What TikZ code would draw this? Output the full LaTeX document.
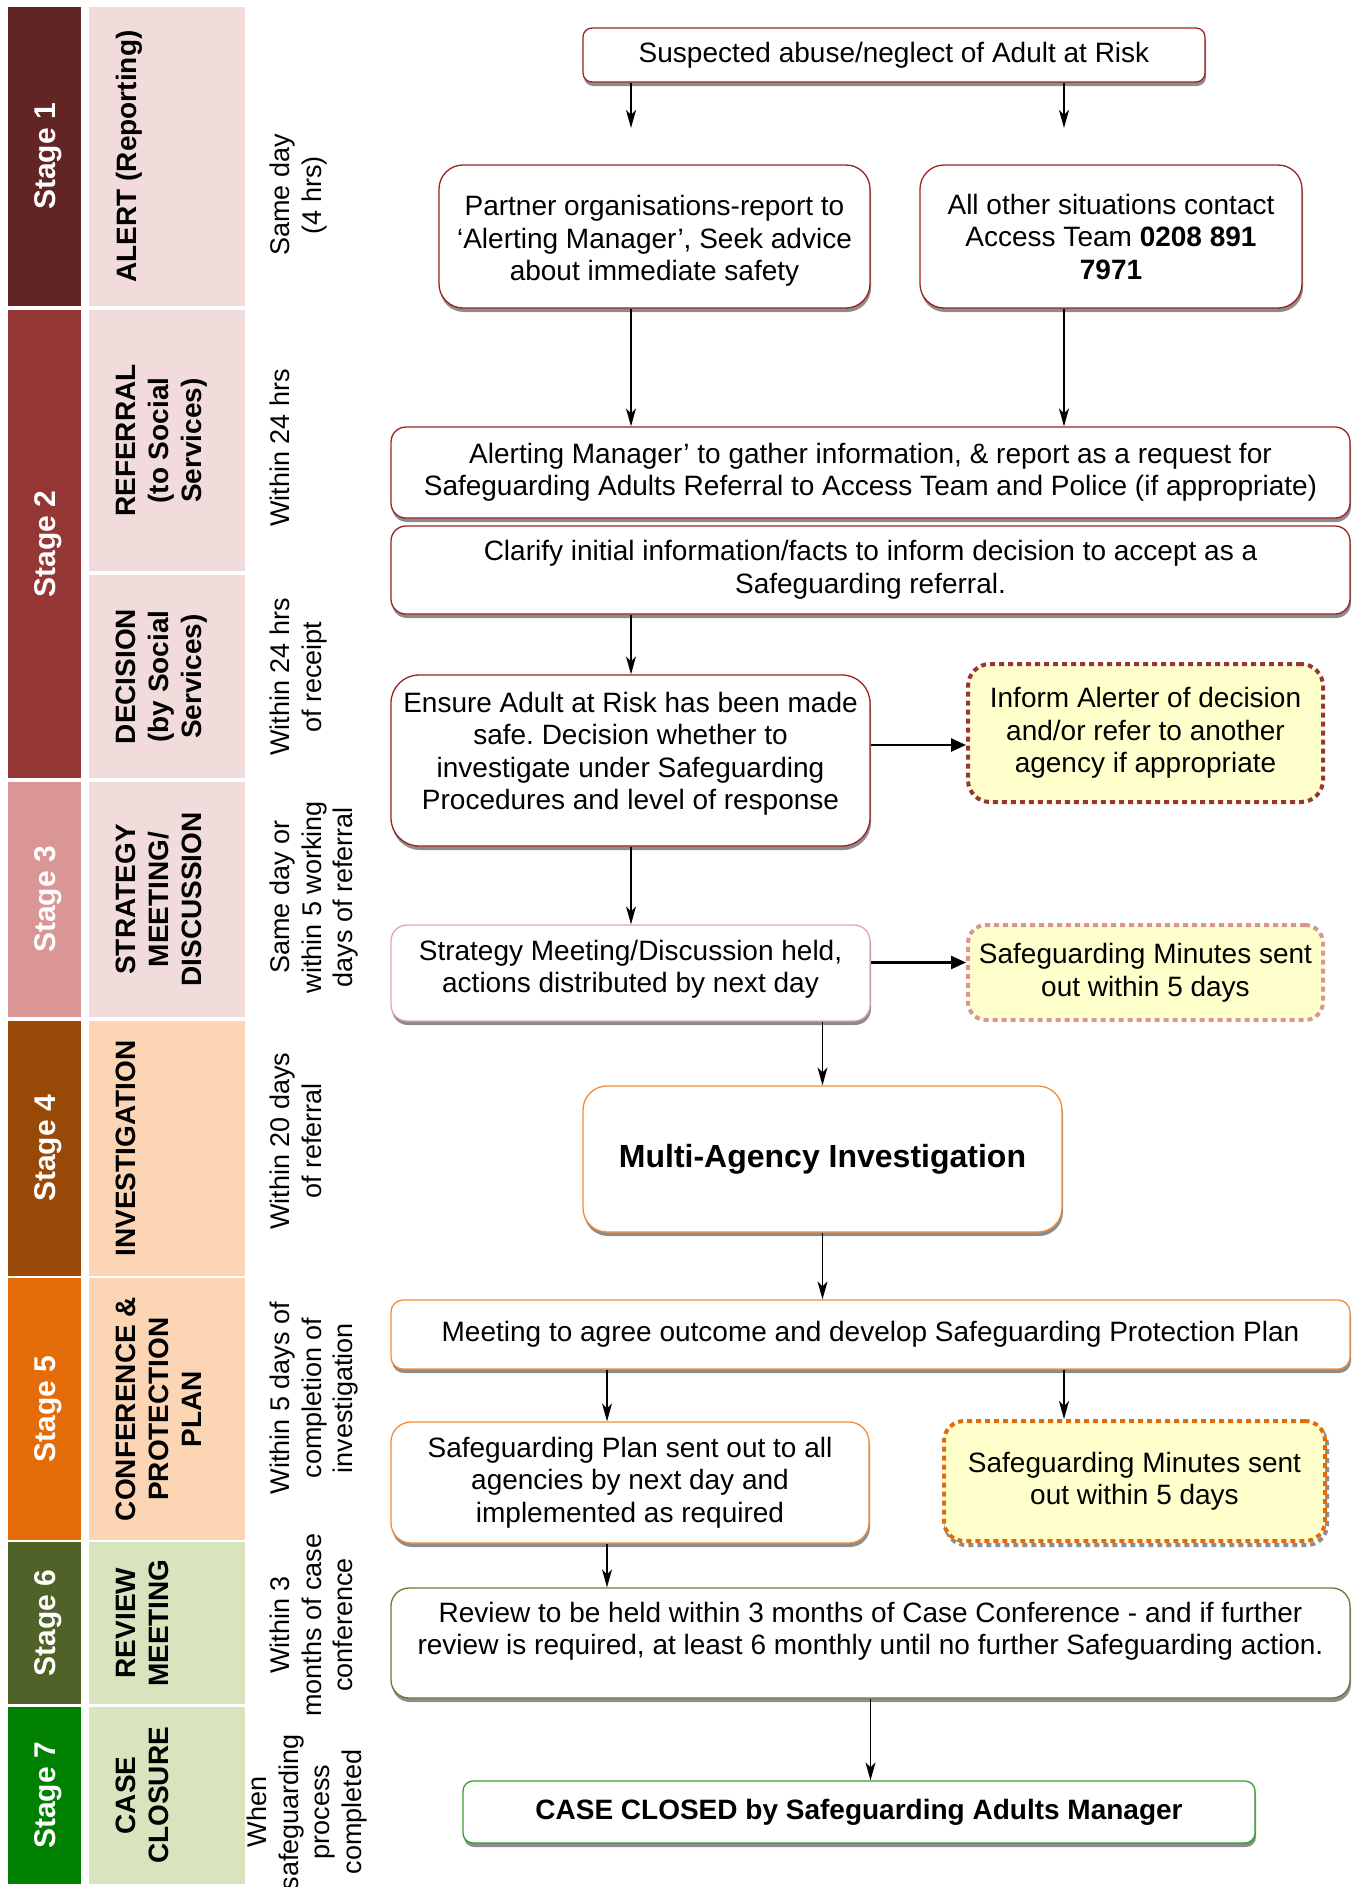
\documentclass[tikz,border=0pt]{standalone}
\usepackage{fontspec}
\setmainfont{Liberation Sans}
\usetikzlibrary{arrows.meta,shadows}
\frenchspacing
\definecolor{stA}{HTML}{632523}
\definecolor{stB}{HTML}{953735}
\definecolor{stC}{HTML}{D99694}
\definecolor{stD}{HTML}{984807}
\definecolor{stE}{HTML}{E36C09}
\definecolor{stF}{HTML}{4F6228}
\definecolor{stG}{HTML}{008000}
\definecolor{lbA}{HTML}{F2DCDB}
\definecolor{lbB}{HTML}{FCD5B5}
\definecolor{lbC}{HTML}{D7E4BD}
\definecolor{boxred}{HTML}{9B2323}
\definecolor{boxpink}{HTML}{E6A5A5}
\definecolor{boxorange}{HTML}{F28C38}
\definecolor{boxolive}{HTML}{687C3C}
\definecolor{boxgreen}{HTML}{33A02C}
\definecolor{notefill}{HTML}{FFFFCC}
\definecolor{shadowgray}{HTML}{8C8C8C}
% move the lines of a box up or down inside it
\newcommand{\liftlines}[2]{\raisebox{#1}[\height][\depth]{\begin{tabular}{@{}c@{}}#2\end{tabular}}}
\begin{document}
\begin{tikzpicture}[x=1pt,y=-1pt,
  box/.style={draw=#1,line width=1.3pt,fill=white,rounded corners=12pt,
    align=center,inner sep=0pt,font=\fontsize{28}{32.5}\selectfont,
    drop shadow={shadow xshift=1pt,shadow yshift=-4pt,fill=shadowgray,opacity=1}},
  box/.default=boxred,
  note/.style={draw=#1,line width=4pt,dash pattern=on 5pt off 4pt,fill=notefill,
    rounded corners=20pt,align=center,inner sep=0pt,font=\fontsize{28}{32.5}\selectfont},
  wh/.style 2 args={minimum width=#1pt,minimum height=#2pt},
  arr/.style={-{Stealth[length=18pt,width=10pt,inset=5pt]},line width=1.3pt},
  harr/.style={-{Triangle[length=15pt,width=13pt]},line width=2.6pt},
  stagelbl/.style={rotate=90,text=white,font=\fontsize{30}{34}\selectfont\bfseries},
  phase/.style={rotate=90,anchor=north,align=center,inner sep=0pt,
    font=\fontsize{28}{33}\selectfont\bfseries},
  timing/.style={rotate=90,anchor=north,align=center,inner sep=0pt,
    font=\fontsize{27}{31.5}\selectfont}]
\useasboundingbox (0,0) rectangle (1358,1887);
% stage column
\foreach \ya/\yb/\col/\n in {7/306/stA/1, 310/778/stB/2, 782/1017/stC/3,
  1021/1276/stD/4, 1278/1540/stE/5, 1542/1704/stF/6, 1707/1884/stG/7}
  {\fill[\col] (8,\ya) rectangle (81,\yb);
   \node[stagelbl] (s\n) at (48,{(\ya+\yb)/2}) {Stage \n};}
% phase column
\foreach \ya/\yb/\col/\nm/\txt in {7/306/lbA/pA/{ALERT (Reporting)},
  310/571/lbA/pB/{REFERRAL\\(to Social\\Services)},
  575/778/lbA/pC/{DECISION\\(by Social\\Services)},
  782/1017/lbA/pD/{STRATEGY\\MEETING/\\DISCUSSION},
  1021/1276/lbB/pE/{INVESTIGATION},
  1278/1540/lbB/pF/{CONFERENCE \&\\PROTECTION\\PLAN},
  1542/1704/lbC/pG/{REVIEW\\MEETING},
  1707/1884/lbC/pH/{CASE\\CLOSURE}}
  {\fill[\col] (89,\ya) rectangle (245,\yb);
   \node[phase] (\nm) at (116,{(\ya+\yb)/2}) {\txt};}
% timescales
\foreach \x/\y/\nm/\txt in {270/195/tA/{Same day\\(4 hrs)},
  270/448/tB/{Within 24 hrs}, 270/677/tC/{Within 24 hrs\\of receipt},
  270/897/tD/{Same day or\\within 5 working\\days of referral},
  270/1141/tE/{Within 20 days\\of referral},
  270/1398/tF/{Within 5 days of\\completion of\\investigation},
  270/1625/tG/{Within 3\\months of case\\conference},
  247/1812/tH/{When\\safeguarding\\process\\completed}}
  \node[timing] (\nm) at (\x,\y) {\txt};
% flow
\node[box,wh={622}{54},rounded corners=9pt] (susp) at (894,55)
  {Suspected abuse/neglect of Adult at Risk};
\node[box,wh={431}{143},rounded corners=24pt] (partner) at (654.5,236.5)
  {\liftlines{-5pt}{Partner organisations-report to\\‘Alerting Manager’, Seek advice\\about immediate safety}};
\node[box,wh={382}{143},rounded corners=24pt] (others) at (1111,236.5)
  {All other situations contact\\Access Team \textbf{0208 891}\\\textbf{7971}};
\node[box,wh={959}{91},rounded corners=15pt] (refer) at (870.5,472.5)
  {Alerting Manager’ to gather information, \& report as a request for\\Safeguarding Adults Referral to Access Team and Police (if appropriate)};
\node[box,wh={959}{88},rounded corners=15pt] (clarify) at (870.5,570)
  {Clarify initial information/facts to inform decision to accept as a\\Safeguarding referral.};
\node[box,wh={479}{171},rounded corners=28pt] (ensure) at (630.5,760.5)
  {\liftlines{6pt}{Ensure Adult at Risk has been made\\safe. Decision whether to\\investigate under Safeguarding\\Procedures and level of response}};
\node[note=stB,wh={355}{138},rounded corners=22pt] (inform) at (1145.5,733)
  {Inform Alerter of decision\\and/or refer to another\\agency if appropriate};
\node[box=boxpink,wh={479}{96},rounded corners=16pt] (strat) at (630.5,973)
  {\liftlines{3pt}{Strategy Meeting/Discussion held,\\actions distributed by next day}};
\node[note=stC,wh={355}{95},rounded corners=18pt] (minA) at (1145.5,972.5)
  {Safeguarding Minutes sent\\out within 5 days};
\node[box=boxorange,wh={479}{146},rounded corners=24pt,
  font=\fontsize{32}{36}\selectfont\bfseries] (invest) at (822.5,1159)
  {Multi-Agency Investigation};
\node[box=boxorange,wh={959}{69},rounded corners=12pt] (meet) at (870.5,1334.5)
  {Meeting to agree outcome and develop Safeguarding Protection Plan};
\node[box=boxorange,wh={478}{121},rounded corners=20pt] (plan) at (630,1482.5)
  {Safeguarding Plan sent out to all\\agencies by next day and\\implemented as required};
\node[note=stE,wh={381}{120},rounded corners=20pt,
  drop shadow={shadow xshift=2pt,shadow yshift=-4pt,fill=none,draw=shadowgray,
    line width=4pt,dash pattern=on 5pt off 4pt,opacity=1}] (minB) at (1134.5,1481)
  {Safeguarding Minutes sent\\out within 5 days};
\node[box=boxolive,wh={959}{110},rounded corners=18pt] (review) at (870.5,1643)
  {\liftlines{11pt}{Review to be held within 3 months of Case Conference - and if further\\review is required, at least 6 monthly until no further Safeguarding action.}};
\node[box=boxgreen,wh={792}{62},rounded corners=10pt,
  font=\fontsize{28}{32.5}\selectfont\bfseries] (closed) at (859,1812)
  {CASE CLOSED by Safeguarding Adults Manager};
% connectors
\coordinate (ea) at (631,128);
\coordinate (eb) at (1064,128);
\coordinate (xa) at (607,0);
\coordinate (ia) at ([yshift=-12pt]inform.west);
\coordinate (ma) at ([yshift=10pt]minA.west);
\draw[arr] (susp.south -| ea) -- (ea);
\draw[arr] (susp.south -| eb) -- (eb);
\draw[arr] (partner.south -| ea) -- (refer.north -| ea);
\draw[arr] (others.south -| eb) -- (refer.north -| eb);
\draw[arr] (clarify.south -| ea) -- (ensure.north -| ea);
\draw[harr] (ensure.east |- ia) -- (ia);
\draw[arr] (ensure.south -| ea) -- (strat.north -| ea);
\draw[harr] (strat.east |- ma) -- (ma);
\draw[arr] (strat.south -| invest.north) -- (invest.north);
\draw[arr] (invest.south) -- (meet.north -| invest.south);
\draw[arr] (meet.south -| xa) -- (plan.north -| xa);
\draw[arr] (meet.south -| eb) -- (minB.north -| eb);
\draw[arr] (plan.south -| xa) -- (review.north -| xa);
\draw[arr] (review.south) -- (closed.north -| review.south);
\end{tikzpicture}
\end{document}
